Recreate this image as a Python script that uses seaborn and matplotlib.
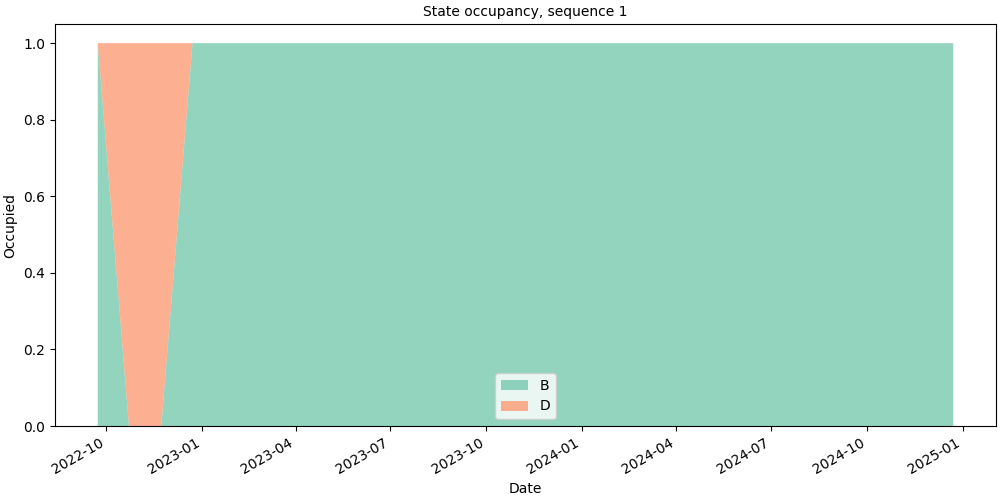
import matplotlib
matplotlib.use("Agg")
import matplotlib.pyplot as plt
import seaborn as sns
import pandas as pd
import numpy as np

plt.rcParams['font.family'] = ['DejaVu Sans']

dates = pd.date_range("2022-09-23", periods=28, freq=pd.DateOffset(months=1))
state_B = [1, 0, 0] + [1] * 25
state_D = [0, 1, 1] + [0] * 25
labels = ["B", "D"]

colors = sns.color_palette("Set2", 2)

fig, ax = plt.subplots(figsize=(10, 5), dpi=100)
ax.stackplot(dates, state_B, state_D, labels=labels, colors=colors, alpha=0.7,
             linewidth=0)
ax.set_title("State occupancy, sequence 1", fontsize=10)
ax.set_xlabel("Date")
ax.set_ylabel("Occupied")
ax.legend(loc="lower center")
fig.autofmt_xdate()
fig.subplots_adjust(left=0.055, right=0.996, top=0.952, bottom=0.148)
fig.savefig("out.png")
